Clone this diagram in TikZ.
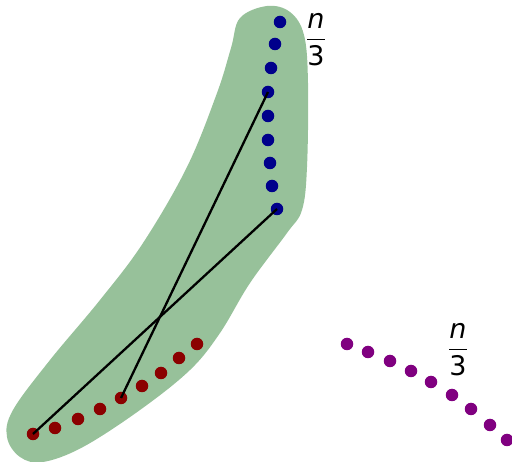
\documentclass[tikz,border=0pt]{standalone}
\usepackage{fontspec}
\setmainfont{DejaVu Sans}
\definecolor{blobgreen}{RGB}{151,193,154}
\definecolor{dotblue}{RGB}{0,0,139}
\definecolor{dotred}{RGB}{139,0,0}
\definecolor{dotpurple}{RGB}{128,0,128}
\tikzset{
  pt/.style={circle,inner sep=0pt,minimum size=12.5pt},
  bpt/.style={pt,fill=dotblue},
  rpt/.style={pt,fill=dotred},
  ppt/.style={pt,fill=dotpurple},
  link/.style={line width=2.3pt,black},
  frac/.style={font=\fontsize{27}{27}\selectfont,inner sep=0pt}
}
\newcommand{\nthird}{$\displaystyle{\mbox{\itshape n}\above 1.8pt\mbox{3}}$}
\begin{document}
\begin{tikzpicture}[x=1pt,y=-1pt]
\useasboundingbox (0,0) rectangle (512,462);
\fill[blobgreen] plot[smooth cycle,tension=0.6] coordinates {
 (267,6) (240,18) (231,48) (217,93) (187,167) (143,243) (100,300) (50,360)
 (13,410) (7,437) (20,457) (43,462) (83,447) (140,410) (190,370) (220,333)
 (250,283) (287,233) (302,210) (307,167) (308,83) (304,35) (290,12)};
% blue
\foreach \i/\x/\y in {1/280/22,2/275/44,3/271/68,4/268/92,5/268/116,6/268/140,7/270/163,8/272/186,9/277/209}
  \node[bpt] (b\i) at (\x,\y) {};
% red
\foreach \i/\x/\y in {1/33/434,2/55/428,3/78/419,4/100/409,5/121/398,6/142/386,7/161/373,8/179/358,9/197/344}
  \node[rpt] (r\i) at (\x,\y) {};
% purple
\foreach \i/\x/\y in {1/347/344,2/368/352,3/390/361,4/411/371,5/431/382,6/452/395,7/471/409,8/490/425,9/507/440}
  \node[ppt] (p\i) at (\x,\y) {};
\draw[link] (r1.center) -- (b9.center);
\draw[link] (r5.center) -- (b4.center);
\node[frac] (lab1) at (316,40) {\nthird};
\node[frac] (lab2) at (458,350) {\nthird};
\end{tikzpicture}
\end{document}
